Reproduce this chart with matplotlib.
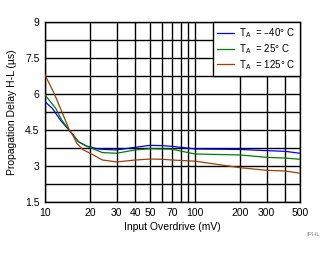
import matplotlib
matplotlib.use("Agg")
import matplotlib.pyplot as plt
from matplotlib.ticker import FixedLocator, NullFormatter

plt.rcParams['font.family'] = ['Liberation Sans', 'DejaVu Sans']

x_blue = [10, 11.2, 12.7, 15.1, 16.7, 18.9, 20, 22, 25, 30, 40, 50, 60, 70, 100, 200, 300, 400, 500]
y_blue = [5.68, 5.40, 4.90, 4.36, 4.01, 3.83, 3.80, 3.72, 3.69, 3.67, 3.78, 3.86, 3.85, 3.82, 3.71, 3.69, 3.64, 3.61, 3.53]
x_green = [10, 11.8, 12.9, 15.1, 16.7, 18.9, 20, 24.1, 30, 40, 50, 60, 70, 100, 200, 300, 400, 500]
y_green = [5.96, 5.40, 4.92, 4.36, 4.01, 3.83, 3.77, 3.56, 3.53, 3.67, 3.72, 3.71, 3.70, 3.50, 3.46, 3.36, 3.33, 3.28]
x_brown = [10, 11.5, 12.8, 14.6, 15.1, 16.3, 18, 20, 24.1, 30, 40, 50, 60, 70, 100, 200, 300, 400, 500]
y_brown = [6.79, 6.03, 5.33, 4.47, 4.36, 3.94, 3.67, 3.53, 3.25, 3.17, 3.25, 3.29, 3.28, 3.25, 3.20, 2.93, 2.82, 2.79, 2.70]

labels = ['T$_{\\mathregular{A}}$  = \u201340\u00b0 C', 'T$_{\\mathregular{A}}$  = 25\u00b0 C', 'T$_{\\mathregular{A}}$  = 125\u00b0 C']
colors = ['#0000ff', '#008000', '#a33e00']

xticks = [10, 20, 30, 40, 50, 70, 100, 200, 300, 500]
xgrid = [10, 20, 30, 40, 50, 60, 70, 80, 90, 100, 200, 300, 400, 500]
yticks = [1.5, 3, 4.5, 6, 7.5, 9]
ygrid = [1.5, 2.25, 3, 3.75, 4.5, 5.25, 6, 6.75, 7.5, 8.25, 9]

fig = plt.figure(figsize=(3.33, 2.54), dpi=100)
ax = fig.add_axes([45/333, 52/254, 255/333, 180/254])
ax.set_xscale('log')
ax.set_xlim(10, 500)
ax.set_ylim(1.5, 9)

for g in xgrid:
    ax.axvline(g, color='black', lw=1.0, zorder=1)
for g in ygrid:
    ax.axhline(g, color='black', lw=1.0, zorder=1)

for xs, ys, c, l in zip([x_blue, x_green, x_brown], [y_blue, y_green, y_brown], colors, labels):
    ax.plot(xs, ys, color=c, lw=0.9, label=l, zorder=3)

ax.xaxis.set_major_locator(FixedLocator(xticks))
ax.xaxis.set_minor_locator(FixedLocator([]))
ax.xaxis.set_minor_formatter(NullFormatter())
ax.set_xticklabels([str(t) for t in xticks])
ax.set_yticks(yticks)
ax.set_yticklabels(['1.5', '3', '4.5', '6', '7.5', '9'])
ax.tick_params(length=0, labelsize=7.5, pad=4)
for s in ax.spines.values():
    s.set_linewidth(1.0)

ax.set_xlabel('Input Overdrive (mV)', fontsize=7.5, labelpad=3)
ax.set_ylabel('Propagation Delay H-L (\u00b5s)', fontsize=7.5, labelpad=6)

leg = ax.legend(loc='upper right', fontsize=7, frameon=True, fancybox=False,
                edgecolor='black', framealpha=1, borderaxespad=0, handlelength=1.8,
                handletextpad=0.5, borderpad=0.45, labelspacing=0.2)
leg.get_frame().set_linewidth(1.0)
leg.set_zorder(5)

fig.text(313/333, 1 - 234/254, 'IPHL', fontsize=4.5, color='#888888', ha='center', va='center')

fig.savefig('out.png', dpi=100)
